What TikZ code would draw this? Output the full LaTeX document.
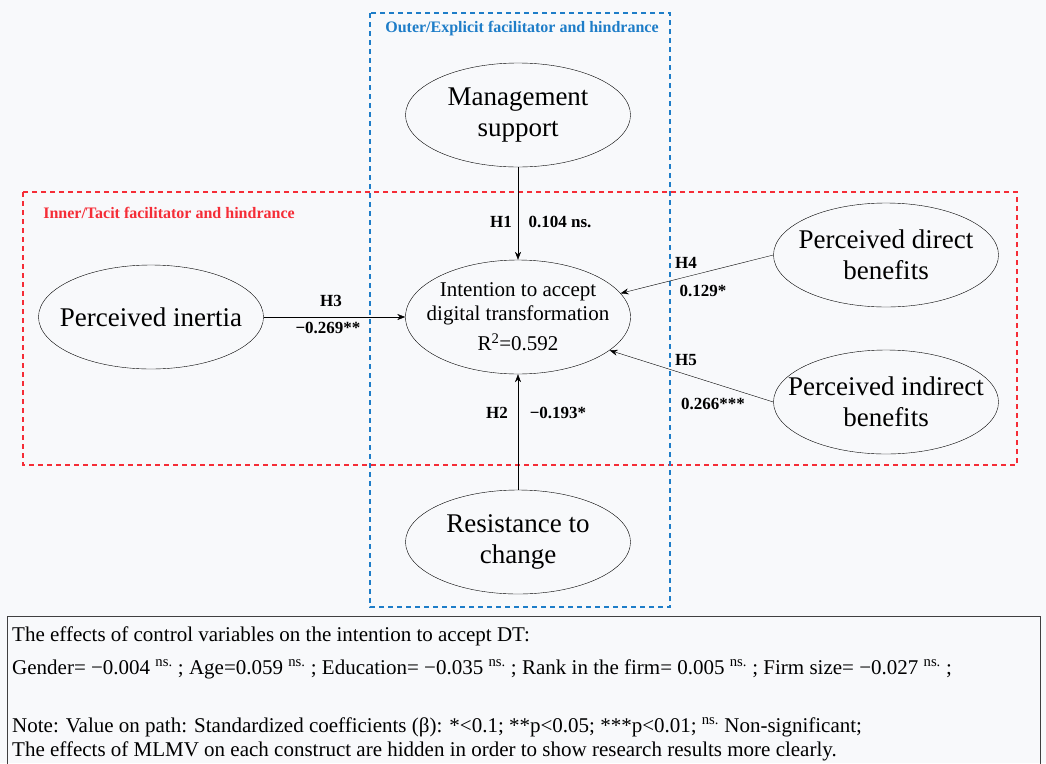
\documentclass[tikz,border=0pt]{standalone}
\usepackage{fontspec}
\setmainfont{Liberation Serif}
\usetikzlibrary{arrows.meta,shapes.geometric}
\definecolor{paper}{RGB}{248,249,251}
\definecolor{outerblue}{RGB}{30,125,200}
\definecolor{innerred}{RGB}{245,45,55}
\begin{document}
\begin{tikzpicture}[x=1pt, y=-1pt, >={Stealth[length=8pt,width=6pt]},
    construct/.style={draw, ellipse, align=center, inner sep=-60pt,
        minimum width=225pt, minimum height=104pt,
        font=\fontsize{27}{31}\selectfont},
    pathlabel/.style={inner sep=0pt, font=\bfseries\fontsize{17}{20}\selectfont},
    group/.style={line width=1.8pt, dash pattern=on 5pt off 4pt},
    grouptitle/.style={inner sep=0pt, font=\bfseries\fontsize{16}{19}\selectfont},
    note/.style={anchor=base west, inner sep=0pt, font=\fontsize{21}{25}\selectfont}]

\useasboundingbox [fill=paper] (0,0) rectangle (1046,763);

% groups
\draw [group, innerred] (23,192) rectangle (1017,465);
\draw [group, outerblue] (370,13) rectangle (670,607);
\node [grouptitle, text=innerred] (inner) at (169,213) {Inner/Tacit facilitator and hindrance};
\node [grouptitle, text=outerblue] (outer) at (522,29) {Outer/Explicit facilitator and hindrance};

% nodes
\node [construct] (M) at (518,115) {Management\\support};
\node [construct, minimum height=114pt, font=\fontsize{21}{24}\selectfont]
    (I) at (518,317) {Intention to accept\\digital transformation\\[6pt]R\textsuperscript{2}=0.592};
\node [construct] (P) at (151,317) {Perceived inertia};
\node [construct] (D) at (886,255) {Perceived direct\\benefits};
\node [construct] (N) at (886,402) {Perceived indirect\\benefits};
\node [construct] (R) at (518,542) {Resistance to\\change};

% path labels
\node [pathlabel] (h1) at (501,222) {H1};
\node [pathlabel] (b1) at (560,222) {0.104 ns.};
\node [pathlabel] (h2) at (497,413) {H2};
\node [pathlabel] (b2) at (558,413) {−0.193*};
\node [pathlabel] (h3) at (331,301) {H3};
\node [pathlabel] (b3) at (328,328) {−0.269**};
\node [pathlabel] (h4) at (686,263) {H4};
\node [pathlabel] (b4) at (703,291) {0.129*};
\node [pathlabel] (h5) at (686,360) {H5};
\node [pathlabel] (b5) at (713,404) {0.266***};

\path [->]
    (M) edge (I)
    (R) edge (I)
    (P) edge (I)
    (D.west) edge (I.13)
    (N.west) edge (I.340)
    ;

% control variables
\draw [black!75, line width=0.8pt] (7,775) -- (7,616) -- (1040,616) -- (1040,775);
\node [note] (n1) at (12,641) {The effects of control variables on the intention to accept DT:};
\node [note] (n2) at (12,674) {Gender= −0.004 \textsuperscript{ns.} ; Age=0.059 \textsuperscript{ns.} ; Education= −0.035 \textsuperscript{ns.} ; Rank in the firm= 0.005 \textsuperscript{ns.} ; Firm size= −0.027 \textsuperscript{ns.} ;};
\node [note] (n3) at (12,732) {Note: Value on path: Standardized coefficients (β): *<0.1; **p<0.05; ***p<0.01; \textsuperscript{ns.} Non-significant;};
\node [note] (n4) at (12,756) {The effects of MLMV on each construct are hidden in order to show research results more clearly.};
\end{tikzpicture}
\end{document}
